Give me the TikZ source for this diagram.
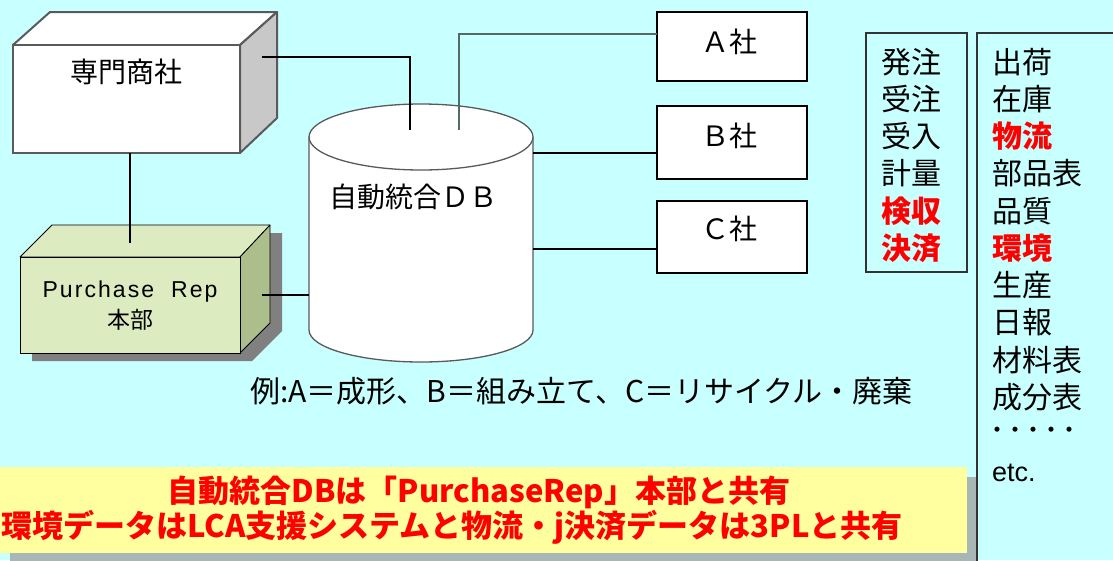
\documentclass[tikz,border=0pt]{standalone}
\usepackage{fontspec}
\newfontfamily\jp{Noto Sans CJK JP}
\newfontfamily\lat{Liberation Sans}
\newfontfamily\latsp{Liberation Sans}[LetterSpace=9]
\definecolor{bgc}{RGB}{200,255,255}
\definecolor{boxgray}{RGB}{90,90,90}
\definecolor{sidegray}{RGB}{200,200,200}
\definecolor{pfront}{RGB}{221,235,192}
\definecolor{pside}{RGB}{172,190,140}
\definecolor{banner}{RGB}{255,255,160}
\definecolor{bshadow}{RGB}{168,182,182}
\definecolor{linkgray}{RGB}{85,105,105}
\begin{document}
\begin{tikzpicture}[x=1pt,y=-1pt,
  listn/.style={anchor=west, inner sep=0pt, font=\jp\fontsize{30}{34}\selectfont, text=black},
  listr/.style={anchor=west, inner sep=0pt, font=\jp\bfseries\fontsize{30}{34}\selectfont, text=red},
  link/.style={draw=black, line width=1.3pt},
  firm/.style={draw=black, line width=1.5pt, fill=white},
  banr/.style={inner sep=0pt, font=\jp\bfseries\fontsize{31}{34}\selectfont, text=red}]
\useasboundingbox (0,0) rectangle (1113,560);
\fill[bgc] (0,0) rectangle (1113,560);

% ---- banner with shadow
\fill[bshadow] (10,477) rectangle (977,565);
\fill[banner] (-2,467) rectangle (967,553);
\node[banr] (ban1) at (479,492) {自動統合DBは「PurchaseRep」本部と共有};
\node[banr] (ban2) at (452,527) {環境データはLCA支援システムと物流・j決済データは3PLと共有};

% ---- 専門商社 box
\draw[boxgray, line width=2pt, fill=white, line join=round] (13,45) -- (50,12) -- (277,12) -- (240,45) -- cycle;
\draw[boxgray, line width=2pt, fill=sidegray, line join=round] (240,45) -- (277,12) -- (277,118) -- (240,153) -- cycle;
\draw[boxgray, line width=2pt, fill=white] (13,45) rectangle (240,153);
\node[font=\jp\fontsize{28}{30}\selectfont, inner sep=0pt] (senmon) at (126,72) {専門商社};
\coordinate (senR) at (262,57);
\coordinate (senB) at (130,153);

% ---- Purchase Rep box
\fill[gray] (32,265) -- (64,233) -- (282,233) -- (282,331) -- (252,361) -- (32,361) -- cycle;
\draw[black, line width=0.8pt, fill=pfront, line join=round] (20,257) -- (52,225) -- (270,225) -- (240,257) -- cycle;
\draw[black, line width=0.8pt, fill=pside, line join=round] (240,257) -- (270,225) -- (270,323) -- (240,353) -- cycle;
\draw[black, line width=0.8pt, fill=pfront] (20,257) rectangle (240,353);
\node[font=\latsp\fontsize{23}{26}\selectfont, inner sep=0pt] (purch) at (130,292) {Purchase\ \ Rep};
\node[font=\jp\fontsize{23}{26}\selectfont, inner sep=0pt] (honbu) at (130,320) {本部};
\coordinate (purT) at (130,243);
\coordinate (purR) at (262,295);

% ---- cylinder DB
\draw[boxgray, line width=1.3pt, fill=white] (309,137) -- (309,330) arc[start angle=180, end angle=0, x radius=112, y radius=32] -- (533,137);
\draw[boxgray, line width=1.3pt, fill=white] (421,137) ellipse[x radius=112, y radius=33];
\node[anchor=west, inner sep=0pt, font=\jp\fontsize{28}{30}\selectfont] (db) at (329,197) {自動統合ＤＢ};
\coordinate (dbT1) at (410,130);
\coordinate (dbT2) at (459,130);
\coordinate (dbL) at (309,295);
\coordinate (dbR1) at (533,153);
\coordinate (dbR2) at (533,249);

% ---- A/B/C firms
\draw[firm] (657,12) rectangle (807,81);
\draw[firm] (657,106) rectangle (807,179);
\draw[firm] (657,201) rectangle (807,273);
\node[font=\jp\fontsize{28}{30}\selectfont, inner sep=0pt] (fa) at (729,42) {Ａ社};
\node[font=\jp\fontsize{28}{30}\selectfont, inner sep=0pt] (fb) at (729,136) {Ｂ社};
\node[font=\jp\fontsize{28}{30}\selectfont, inner sep=0pt] (fc) at (729,229) {Ｃ社};
\coordinate (aIn) at (657,34);
\coordinate (bIn) at (657,153);
\coordinate (cIn) at (657,249);

% ---- connectors
\draw[link] (senR) -| (dbT1);
\draw[draw=linkgray, line width=2.2pt] (aIn) -| (dbT2);
\draw[link] (dbR1) -- (bIn);
\draw[link] (dbR2) -- (cIn);
\draw[link] (purR) -- (dbL);
\draw[link] (senB) -- (purT);

% ---- example text
\node[anchor=west, inner sep=0pt, font=\jp\fontsize{30}{32}\selectfont] (ex) at (250,391) {例:A＝成形、B＝組み立て、C＝リサイクル・廃棄};

% ---- list boxes
\draw[black!80, line width=1.2pt] (866,33) rectangle (967,272);
\draw[black!80, line width=1.4pt] (1120,33) -- (977,33) -- (977,566);
\foreach \t/\s [count=\i] in {発注/listn,受注/listn,受入/listn,計量/listn,検収/listr,決済/listr}
  \node[\s] (la\i) at (881,{62+37.2*(\i-1)}) {\t};
\foreach \t/\s [count=\i] in {出荷/listn,在庫/listn,物流/listr,部品表/listn,品質/listn,環境/listr,生産/listn,日報/listn,材料表/listn,成分表/listn}
  \node[\s] (lb\i) at (992,{62+37.2*(\i-1)}) {\t};
\node[anchor=west, inner sep=0pt, font=\jp\bfseries\fontsize{18}{20}\selectfont] (dots) at (988,432) {・・・・・};
\node[anchor=west, inner sep=0pt, font=\lat\fontsize{27}{30}\selectfont] (etc) at (992,473) {etc.};
\end{tikzpicture}
\end{document}
